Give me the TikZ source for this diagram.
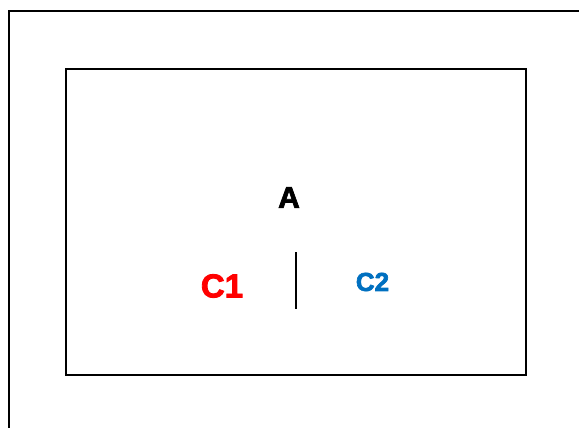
\documentclass[tikz,border=0pt]{standalone}
\usepackage{fontspec}
\setmainfont{Liberation Sans}[BoldFeatures={FakeBold=2.5}]
\definecolor{cred}{HTML}{FF0000}
\definecolor{cblue}{HTML}{0070C0}
\begin{document}
\begin{tikzpicture}[x=1pt,y=-1pt,
  frame/.style={draw=black,line width=2pt},
  lbl/.style={inner sep=0pt,font=\bfseries}]
\useasboundingbox (0,0) rectangle (579,428);
\clip (0,0) rectangle (579,428);
\draw[frame] (9,11) rectangle (600,450);
\draw[frame] (66,69) rectangle (526,375);
\node[lbl,font=\fontsize{30}{30}\selectfont\bfseries] (A) at (289,197.5) {A};
\node[lbl,text=cred,font=\fontsize{33}{33}\selectfont\bfseries] (c1) at (222,286) {C1};
\node[lbl,text=cblue,font=\fontsize{26}{26}\selectfont\bfseries] (c2) at (372.5,282) {C2};
\coordinate (t) at (296,252);
\coordinate (b) at (296,309);
\draw[line width=1.5pt] (t) -- (b);
\end{tikzpicture}
\end{document}
